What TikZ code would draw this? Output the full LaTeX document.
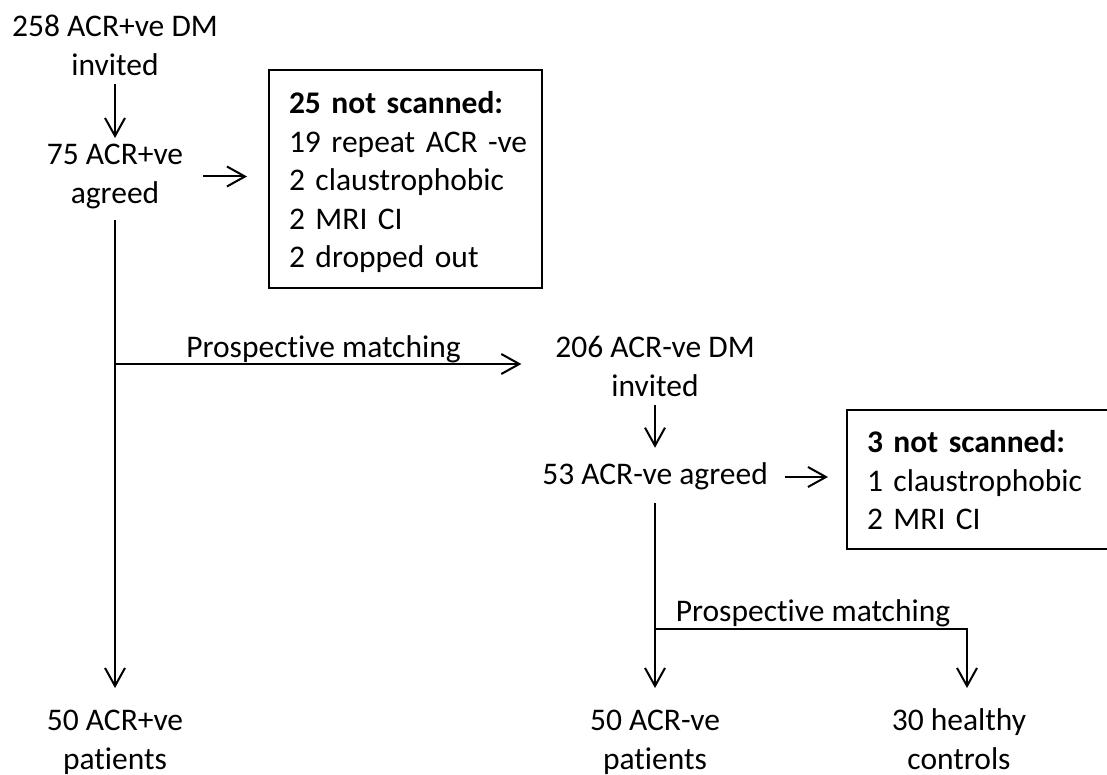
\documentclass[tikz,border=0pt]{standalone}
\usepackage{fontspec}
\setmainfont{Carlito}[Ligatures={NoCommon,NoContextual}]
\usetikzlibrary{arrows.meta}
\begin{document}
\begin{tikzpicture}[x=0.5pt,y=-0.5pt,
  every node/.style={font=\fontsize{15.75pt}{19.25pt}\selectfont, inner sep=0pt, outer sep=0pt},
  lbl/.style={align=center},
  boxnode/.style={draw, line width=1pt, align=left, inner xsep=10pt, inner ysep=0pt},
  conn/.style={line width=1pt},
  arr/.style={conn, -{Straight Barb[length=9pt,width=10pt]}}]
\useasboundingbox (0,0) rectangle (1107,775);

% nodes
\node[lbl] (n1) at (115,48.5) {\strut 258 ACR+ve DM\\\strut invited};
\node[lbl] (n2) at (115,176.5) {\strut 75 ACR+ve\\\strut agreed};
\node[boxnode, minimum width=136.5pt, minimum height=109pt, text width=116.5pt] (b1) at (405.5,179)
  {\mbox{\rule{0pt}{17.5pt}\textbf{25 not scanned:}}\\\mbox{\strut 19 repeat ACR -ve}\\\mbox{\strut 2 claustrophobic}\\\mbox{\strut 2 MRI CI}\\\mbox{\strut 2 dropped out}};
\node[lbl] (n3) at (115,742.5) {\strut 50 ACR+ve\\\strut patients};
\node[lbl] (n4) at (655,369.5) {\strut 206 ACR-ve DM\\\strut invited};
\node[lbl] (n5) at (655,477) {\strut 53 ACR-ve agreed};
\node[boxnode, anchor=west, minimum width=141.5pt, minimum height=69.5pt, text width=121.5pt] (b2) at (847,479.5)
  {\mbox{\rule{0pt}{17.5pt}\textbf{3 not scanned:}}\\\mbox{\strut 1 claustrophobic}\\\mbox{\strut 2 MRI CI}};
\node[lbl] (n6) at (655,742.5) {\strut 50 ACR-ve\\\strut patients};
\node[lbl] (n7) at (959,742.5) {\strut 30 healthy\\\strut controls};
\node (m1) at (323.5,350) {\strut Prospective matching};
\node (m2) at (813,614) {\strut Prospective matching};

\coordinate (j1) at (115,364);
\coordinate (j2) at (655,629);
\coordinate (c2) at (967,629);

% connectors
\draw[arr, shorten <=-1.5pt] (n1) -- (n2);
\draw[arr, shorten <=10pt, shorten >=11pt] (n2.east) -- (b1.west |- n2.east);
\draw[arr, shorten <=2.5pt, shorten >=8pt] (n2) -- (n3);
\draw[arr, shorten >=17pt] (j1) -- (j1 -| n4.west);
\draw[arr, shorten <=-1.5pt, shorten >=5pt] (n4) -- (n5);
\draw[arr, shorten <=8.5pt, shorten >=9.5pt] (n5.east) -- (b2.west |- n5.east);
\draw[arr, shorten <=3.5pt, shorten >=8pt] (n5) -- (n6);
\draw[arr, shorten >=8pt] (j2) -- (c2) -- (c2 |- n7.north);
\end{tikzpicture}
\end{document}
